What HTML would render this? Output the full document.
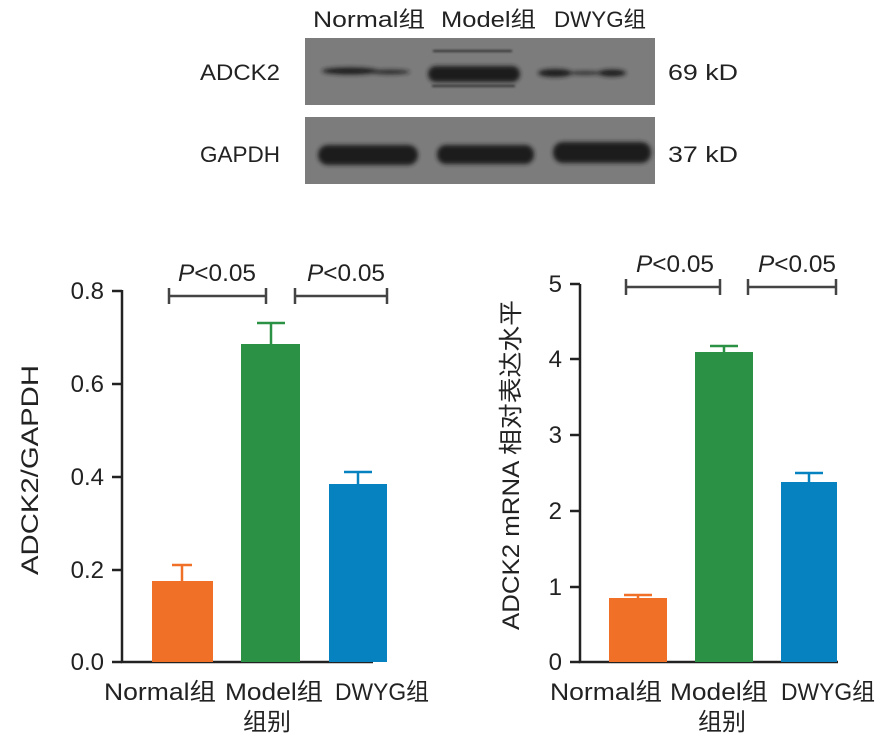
<!DOCTYPE html><html><head><meta charset="utf-8"><style>body{margin:0;background:#fff}svg{display:block}text{font-family:"Liberation Sans","Noto Sans CJK SC",sans-serif;fill:#222}</style></head><body>
<svg width="886" height="739" viewBox="0 0 886 739">
<defs><filter id="b"><feGaussianBlur stdDeviation="2"/></filter><filter id="b1"><feGaussianBlur stdDeviation="1"/></filter></defs>
<g font-size="22">
<text x="313" y="27" textLength="112" lengthAdjust="spacingAndGlyphs">Normal组</text><text x="441" y="27" textLength="95" lengthAdjust="spacingAndGlyphs">Model组</text><text x="554" y="27" textLength="92" lengthAdjust="spacingAndGlyphs">DWYG组</text>
<text x="200" y="80" textLength="80" lengthAdjust="spacingAndGlyphs">ADCK2</text><text x="200" y="162" textLength="80" lengthAdjust="spacingAndGlyphs">GAPDH</text>
<text x="668" y="80" textLength="70" lengthAdjust="spacingAndGlyphs">69 kD</text><text x="668" y="162" textLength="70" lengthAdjust="spacingAndGlyphs">37 kD</text>
</g>
<rect x="305" y="38" width="350" height="67" fill="#7c7c7c"/>
<rect x="305" y="117" width="350" height="67" fill="#7c7c7c"/>
<g fill="#1e1e1e" filter="url(#b)">
<ellipse cx="350" cy="71" rx="28" ry="3.5"/><ellipse cx="390" cy="72" rx="20" ry="2"/>
<rect x="428" y="66" width="92" height="16" rx="8"/>
<ellipse cx="555" cy="73" rx="17" ry="4"/><ellipse cx="612" cy="73" rx="14" ry="3.5"/><ellipse cx="585" cy="73" rx="20" ry="1.5"/>
<rect x="318" y="145" width="100" height="20" rx="10"/>
<rect x="437" y="145" width="97" height="19" rx="9"/>
<rect x="553" y="142" width="98" height="21" rx="10"/>
</g>
<g stroke="#333" filter="url(#b1)"><line x1="433" y1="51" x2="512" y2="51" stroke-width="2"/><line x1="432" y1="86" x2="515" y2="86" stroke-width="2"/></g>
<g stroke="#222" stroke-width="2.5" fill="none">
<path d="M122 290V662H373"/><path d="M580 284V662H838"/>
<path d="M112 291h10M112 384h10M112 477h10M112 570h10M112 662h10"/>
<path d="M570 284h10M570 359h10M570 435h10M570 511h10M570 587h10M570 662h10"/>
</g>
<g stroke="#444" stroke-width="2.5"><path d="M169 296h97M169 288v16M266 288v16M295 296h92M295 288v16M387 288v16"/>
<path d="M626 287h94M626 279v16M720 279v16M748 287h88M748 279v16M836 279v16"/></g>
<g font-size="24">
<text x="104" y="299" text-anchor="end">0.8</text><text x="104" y="392" text-anchor="end">0.6</text><text x="104" y="485" text-anchor="end">0.4</text><text x="104" y="578" text-anchor="end">0.2</text><text x="104" y="670" text-anchor="end">0.0</text>
<text x="562" y="292" text-anchor="end">5</text><text x="562" y="367" text-anchor="end">4</text><text x="562" y="443" text-anchor="end">3</text><text x="562" y="519" text-anchor="end">2</text><text x="562" y="595" text-anchor="end">1</text><text x="562" y="670" text-anchor="end">0</text>
<text x="178" y="281" textLength="78" lengthAdjust="spacingAndGlyphs"><tspan font-style="italic">P</tspan>&lt;0.05</text><text x="307" y="281" textLength="78" lengthAdjust="spacingAndGlyphs"><tspan font-style="italic">P</tspan>&lt;0.05</text>
<text x="636" y="272" textLength="78" lengthAdjust="spacingAndGlyphs"><tspan font-style="italic">P</tspan>&lt;0.05</text><text x="758" y="272" textLength="78" lengthAdjust="spacingAndGlyphs"><tspan font-style="italic">P</tspan>&lt;0.05</text>
<text x="104" y="700" textLength="112" lengthAdjust="spacingAndGlyphs">Normal组</text><text x="225" y="700" textLength="98" lengthAdjust="spacingAndGlyphs">Model组</text><text x="335" y="700" textLength="94" lengthAdjust="spacingAndGlyphs">DWYG组</text>
<text x="267" y="730" text-anchor="middle">组别</text>
<text x="550" y="700" textLength="112" lengthAdjust="spacingAndGlyphs">Normal组</text><text x="670" y="700" textLength="98" lengthAdjust="spacingAndGlyphs">Model组</text><text x="781" y="700" textLength="94" lengthAdjust="spacingAndGlyphs">DWYG组</text>
<text x="722" y="730" text-anchor="middle">组别</text>
<text transform="translate(38 470) rotate(-90)" text-anchor="middle" textLength="210" lengthAdjust="spacingAndGlyphs">ADCK2/GAPDH</text>
<text transform="translate(519 465) rotate(-90)" text-anchor="middle" textLength="330" lengthAdjust="spacingAndGlyphs">ADCK2 mRNA 相对表达水平</text>
</g>
<g stroke-width="2.5">
<path d="M182 581V565M172 565h20" stroke="#f07028"/>
<path d="M271 344V323M257 323h28" stroke="#2a9145"/>
<path d="M358 484V472M344 472h28" stroke="#0782c1"/>
<path d="M638 598V595M624 595h28" stroke="#f07028"/>
<path d="M724 352V346M710 346h28" stroke="#2a9145"/>
<path d="M809 482V473M795 473h28" stroke="#0782c1"/>
</g>
<rect x="152" y="581" width="61" height="81" fill="#f07028"/>
<rect x="241" y="344" width="59" height="318" fill="#2a9145"/>
<rect x="329" y="484" width="58" height="178" fill="#0782c1"/>
<rect x="609" y="598" width="58" height="64" fill="#f07028"/>
<rect x="695" y="352" width="58" height="310" fill="#2a9145"/>
<rect x="781" y="482" width="56" height="180" fill="#0782c1"/>
</svg></body></html>
